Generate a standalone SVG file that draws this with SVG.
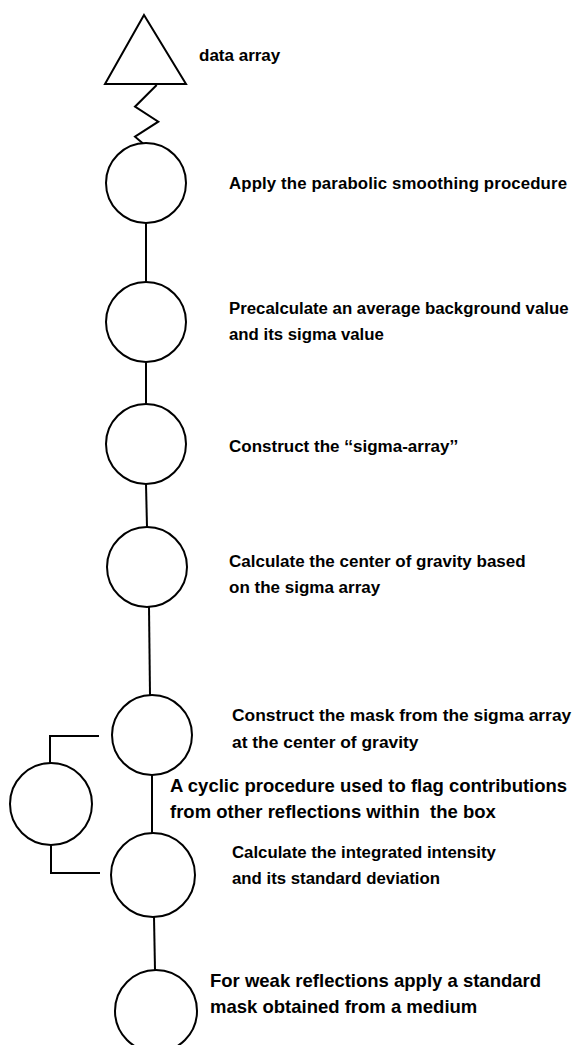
<svg xmlns="http://www.w3.org/2000/svg" width="574" height="1045" viewBox="0 0 574 1045">
<style>
.s{fill:none;stroke:#000;stroke-width:2;stroke-linejoin:miter}
.n{fill:#fff;stroke:#000;stroke-width:2}
text{font-family:"Liberation Sans",Arial,sans-serif;font-weight:bold;font-size:17px;fill:#000}
.m{font-size:16.8px}
.l{font-size:18.5px}
.k{font-size:17.4px}
</style>
<rect width="574" height="1045" fill="#fff"/>
<g id="connectors">
<polyline class="s" points="156.7,85 135,106.7 158.3,121.7 135,136.7 143,143.5"/>
<line class="s" x1="146" y1="223" x2="146" y2="282"/>
<line class="s" x1="146" y1="362" x2="146" y2="404"/>
<line class="s" x1="146" y1="484" x2="147" y2="527"/>
<line class="s" x1="149" y1="607" x2="150" y2="695"/>
<line class="s" x1="152" y1="775" x2="152" y2="833"/>
<line class="s" x1="154" y1="917" x2="155" y2="970"/>
<polyline class="s" points="99,736 50,736 50,764"/>
<polyline class="s" points="51,845 51,873 100,873"/>
</g>
<g id="data-array">
<polygon class="n" points="144,15 186,84 105,84"/>
<text x="199" y="61">data array</text>
</g>
<g id="n1">
<circle class="n" cx="146" cy="183" r="40"/>
<text class="m" x="229" y="189" textLength="338" lengthAdjust="spacing">Apply the parabolic smoothing procedure</text>
</g>
<g id="n2">
<circle class="n" cx="146" cy="322" r="40"/>
<text class="m" x="229" y="314">Precalculate an average background value</text>
<text class="m" x="229" y="340">and its sigma value</text>
</g>
<g id="n3">
<circle class="n" cx="146" cy="444" r="40"/>
<text x="229" y="452">Construct the ‘‘sigma-array’’</text>
</g>
<g id="n4">
<circle class="n" cx="147" cy="567" r="40"/>
<text x="229" y="567">Calculate the center of gravity based</text>
<text x="229" y="593">on the sigma array</text>
</g>
<g id="n5">
<circle class="n" cx="152" cy="735" r="40"/>
<text class="k" x="232" y="721">Construct the mask from the sigma array</text>
<text class="k" x="232" y="748">at the center of gravity</text>
</g>
<g id="cycle">
<circle class="n" cx="51" cy="804" r="41"/>
<text class="l" x="170" y="792">A cyclic procedure used to flag contributions</text>
<text class="l" x="170" y="818" xml:space="preserve">from other reflections within  the box</text>
</g>
<g id="n6">
<circle class="n" cx="153" cy="875" r="42"/>
<text class="m" x="232" y="858">Calculate the integrated intensity</text>
<text class="m" x="232" y="884">and its standard deviation</text>
</g>
<g id="n7">
<circle class="n" cx="156" cy="1011" r="41"/>
<text class="l" x="210" y="987">For weak reflections apply a standard</text>
<text class="l" x="210" y="1013">mask obtained from a medium</text>
</g>
</svg>
